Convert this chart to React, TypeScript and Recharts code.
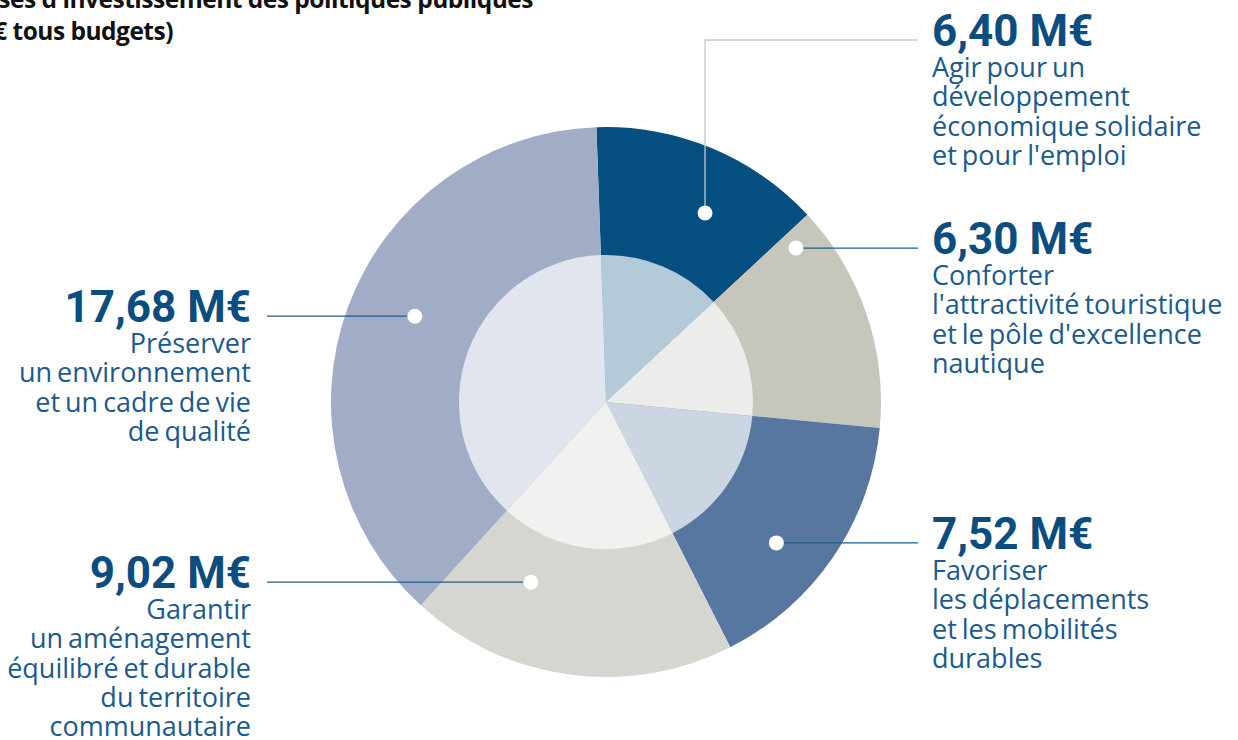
import { Cell, Pie, PieChart } from "recharts";

// dépenses d'investissement par politique publique (M€)
const amounts = [6.4, 6.3, 7.52, 9.02, 17.68];
const policies = [
  ["Agir pour un", "développement", "économique solidaire", "et pour l'emploi"],
  ["Conforter", "l'attractivité touristique", "et le pôle d'excellence", "nautique"],
  ["Favoriser", "les déplacements", "et les mobilités", "durables"],
  ["Garantir", "un aménagement", "équilibré et durable", "du territoire", "communautaire"],
  ["Préserver", "un environnement", "et un cadre de vie", "de qualité"],
];
const titleLines = [
  "Dépenses d'investissement des politiques publiques",
  "(en M€ tous budgets)",
];

const outerColors = ["#044f7f", "#c6c6bd", "#5777a1", "#d5d6d0", "#a1adc7"];
const innerColors = ["#b3cad8", "#ececea", "#ccd6e2", "#f1f1ef", "#e1e5ee"];

// where the white dot sits inside each slice (angle shift from mid, radius factor)
const dotSpots = [
  { shift: -5.1, k: 0.776 },
  { shift: 20.3, k: 0.889 },
  { shift: -5.3, k: 0.804 },
  { shift: -14.9, k: 0.71 },
  { shift: -4.0, k: 0.762 },
];

const W = 1238;
const H = 740;
const CX = 606;
const CY = 402;
const R_OUT = 275;
const R_IN = 147;
const START = 92;
const RIGHT_TEXT_X = 932;
const RIGHT_LINE_END = 918;
const LEFT_TEXT_X = 251;
const LEFT_LINE_END = 267;
const TOP_ELBOW_Y = 40;

const slices = amounts.map((value, i) => ({ name: policies[i][0], value }));

const fmt = (v: number) => v.toFixed(2).replace(".", ",") + " M€";

const renderLabel = (props: any) => {
  const { cx, cy, midAngle, outerRadius, index } = props;
  const spot = dotSpots[index];
  const a = ((midAngle + spot.shift) * Math.PI) / 180;
  const r = outerRadius * spot.k;
  const x = cx + r * Math.cos(a);
  const y = cy - r * Math.sin(a);
  const right = x > cx;
  const lineY = index === 0 ? TOP_ELBOW_Y : y;
  const textX = right ? RIGHT_TEXT_X : LEFT_TEXT_X;
  const lineEnd = right ? RIGHT_LINE_END : LEFT_LINE_END;
  const anchor = right ? "start" : "end";
  const valueY = lineY + 6;

  return (
    <g key={`lbl-${index}`}>
      {index === 0 ? (
        <polyline
          points={`${x},${y} ${x},${lineY} ${lineEnd},${lineY}`}
          fill="none"
          stroke="#c9c8c0"
          strokeWidth={1.3}
        />
      ) : (
        <line x1={x} y1={y} x2={lineEnd} y2={y} stroke="#1d5c91" strokeWidth={1.3} />
      )}
      <circle cx={x} cy={y} r={7.5} fill="#ffffff" />
      <text
        x={textX}
        y={valueY}
        textAnchor={anchor}
        fontFamily="Roboto"
        fontWeight={700}
        fontSize={44}
        fill="#0c4d80"
      >
        {fmt(amounts[index])}
      </text>
      <text
        textAnchor={anchor}
        fontFamily="Open Sans"
        fontSize={27}
        fill="#1a5a8c"
        wordSpacing={-2}
      >
        {policies[index].map((line, i) => (
          <tspan key={i} x={textX} y={valueY + 31 + i * 29.3}>
            {line}
          </tspan>
        ))}
      </text>
    </g>
  );
};

export default function App() {
  return (
    <div
      style={{
        position: "absolute",
        left: 0,
        top: 0,
        width: W,
        height: H,
        background: "#ffffff",
        overflow: "hidden",
      }}
    >
      <PieChart width={W} height={H} margin={{ top: 0, right: 0, bottom: 0, left: 0 }}>
        <Pie
          data={slices}
          dataKey="value"
          cx={CX}
          cy={CY}
          outerRadius={R_OUT}
          startAngle={START}
          endAngle={START - 360}
          stroke="none"
          label={renderLabel}
          labelLine={false}
          isAnimationActive={false}
        >
          {slices.map((s, i) => (
            <Cell key={s.name} fill={outerColors[i]} />
          ))}
        </Pie>
        <Pie
          data={slices}
          dataKey="value"
          cx={CX}
          cy={CY}
          outerRadius={R_IN}
          startAngle={START}
          endAngle={START - 360}
          stroke="none"
          isAnimationActive={false}
        >
          {slices.map((s, i) => (
            <Cell key={s.name} fill={innerColors[i]} />
          ))}
        </Pie>
      </PieChart>
      <svg
        width={W}
        height={H}
        style={{ position: "absolute", left: 0, top: 0, pointerEvents: "none" }}
      >
        <text
          x={533}
          y={8}
          textAnchor="end"
          fontFamily="Open Sans"
          fontWeight={700}
          fontSize={24.5}
          letterSpacing={-0.5}
          fill="#111111"
        >
          {titleLines[0]}
        </text>
        <text
          x={173}
          y={40}
          textAnchor="end"
          fontFamily="Open Sans"
          fontWeight={700}
          fontSize={24.5}
          letterSpacing={-0.5}
          fill="#111111"
        >
          {titleLines[1]}
        </text>
      </svg>
    </div>
  );
}
